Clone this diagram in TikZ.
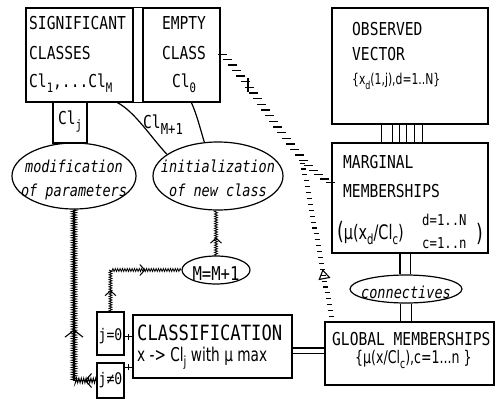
\documentclass[tikz,border=0pt]{standalone}
\usepackage{fontspec}
\setmainfont{DejaVu Sans Mono}[FakeStretch=0.82]
\newfontfamily\formfont{DejaVu Sans}[FakeStretch=0.72]
\usetikzlibrary{shapes.geometric,decorations.pathmorphing,decorations.markings,arrows.meta,calc}
\newcommand\myfs[1]{\fontsize{#1}{#1}\selectfont}
\newcommand\lsub[2][13]{\raisebox{-5pt}{\myfs{#1}#2}}
\begin{document}
\begin{tikzpicture}[x=1pt,y=-1pt,
  box/.style={draw, line width=1.2pt, inner sep=0pt},
  oval/.style={draw, ellipse, line width=1.2pt, inner sep=0pt},
  txt/.style={inner sep=0pt, anchor=base west, font=\myfs{17.8}},
  ctxt/.style={inner sep=0pt, anchor=base, font=\myfs{17.8}},
  itxt/.style={inner sep=0pt, anchor=base, font=\myfs{16.5}\itshape},
  conn/.style={line width=1.2pt},
  hatch/.style={decorate, decoration={zigzag, segment length=2.4pt, amplitude=1.5pt}, line width=0.8pt},
  mainhatch/.style={decorate, decoration={zigzag, segment length=2.4pt, amplitude=2.4pt}, line width=0.9pt},
  tick/.style={postaction={decorate, decoration={markings, mark=at position 0.45 with {\draw[line width=0.8pt] (0,-3pt) -- (0,3pt);}}}},
  ladder/.style={postaction={decorate, decoration={markings, mark=between positions 0.02 and 1 step 7pt with {\pgftransformresetnontranslations \draw[line width=1.3pt] (-4.5pt,0) -- (4.5pt,0);}}}},
  dotline/.style={postaction={decorate, decoration={markings, mark=between positions 0.03 and 1 step 6pt with {\pgftransformresetnontranslations \draw[line width=1.1pt] (-2.5pt,0) -- (2.5pt,0);}}}}
]
\useasboundingbox (0,0) rectangle (496,399);

% ---- top-left box: significant classes / empty class
\node[box, minimum width=107pt, minimum height=94pt] (sig) at (79.5,55) {};
\node[box, minimum width=77pt, minimum height=94pt] (emp) at (181.5,55) {};
\draw[conn] (sig.north east) -- (emp.north west);
\draw[conn] (sig.south east) -- (emp.south west);
\node[txt] (sig1) at (29,29) {SIGNIFICANT};
\node[txt] (sig2) at (29,59) {CLASSES};
\node[txt] (sig3) at (29,87) {Cl\lsub{1},...Cl\lsub{M}};
\node[ctxt] (emp1) at (184,29) {EMPTY};
\node[ctxt] (emp2) at (184,59) {CLASS};
\node[ctxt] (emp3) at (184,87) {Cl\lsub{0}};

% ---- Cl_j box and ellipses
\node[box, minimum width=34pt, minimum height=41pt] (clj) at (70,122.5) {};
\node[ctxt] (cljt) at (70,124) {Cl\lsub{j}};
\node[oval, minimum width=124pt, minimum height=66pt] (mod) at (74,176) {};
\node[itxt] (mod1) at (74,172) {modification};
\node[itxt] (mod2) at (74,196) {of parameters};
\node[oval, minimum width=130pt, minimum height=68pt] (init) at (218,176) {};
\node[itxt] (init1) at (218,172) {initialization};
\node[itxt] (init2) at (218,196) {of new class};

% funnel from empty class to initialization
\coordinate (fl) at ($(sig.south west)+(92,0)$);
\coordinate (fr) at ($(emp.south west)+(49,0)$);
\draw[conn] (fl) .. controls (135,112) and (150,136) .. (init.157);
\draw[conn] (fr) .. controls (197,115) and (200,128) .. (init.112);
\node[txt] (clm) at (143,128) {Cl\raisebox{-6pt}{\myfs{15}M+1}};

% ---- right column
\node[box, minimum width=156pt, minimum height=116pt] (obs) at (410,66) {};
\node[txt] (obs1) at (352,35) {OBSERVED};
\node[txt] (obs2) at (352,60) {VECTOR};
\node[txt, font=\myfs{15}\formfont] (obs3) at (352,84) {\{x\lsub[11]{d}(1,j),d=1..N\}};
\node[box, minimum width=156pt, minimum height=110pt] (marg) at (410,198) {};
\foreach \dx in {50,61,68,75,83,91}
  \draw[conn] ($(obs.south west)+(\dx,0)$) -- ($(marg.north west)+(\dx,0)$);
\node[txt] (marg1) at (343,168) {MARGINAL};
\node[txt] (marg2) at (343,197) {MEMBERSHIPS};
\node[txt, font=\myfs{20}\formfont] (marg3) at (337,239) {{\myfs{24}(}μ(x\lsub[14]{d}/Cl\lsub[14]{c})};
\node[inner sep=0pt, anchor=base west, font=\myfs{15}] (marg4) at (422,225) {d=1..N};
\node[inner sep=0pt, anchor=base west, font=\myfs{15}] (marg5) at (422,248) {c=1..n};
\node[inner sep=0pt, anchor=base west, font=\myfs{24}\formfont] (marg6) at (476,241) {)};

\node[oval, minimum width=112pt, minimum height=28pt] (cnv) at (406,289) {};
\node[itxt] (cnvt) at (406,298) {connectives};
\node[box, minimum width=169pt, minimum height=63pt] (glob) at (409.5,353.5) {};
\node[txt] (glob1) at (332,345) {GLOBAL MEMBERSHIPS};
\node[txt, font=\myfs{17.5}\formfont] (glob2) at (355,363) {\{μ(x/Cl\lsub[13]{c}),c=1...n \}};

\coordinate (mc) at ($(marg.south)+(-5,0)$);
\draw[conn, double, double distance=9pt] (mc) -- (mc |- cnv.north);
\draw[conn, double, double distance=10pt] (cnv.south) -- (cnv.south |- glob.north);

% ---- classification and j boxes
\node[box, minimum width=159pt, minimum height=63pt] (cls) at (212.5,346.5) {};
\node[txt, font=\myfs{21}] (cls1) at (137,340) {CLASSIFICATION};
\node[txt, font=\myfs{19}\formfont] (cls2) at (137,361) {x -> Cl\lsub[14]{j} with μ max};
\node[box, minimum width=27pt, minimum height=43pt] (j0) at (110.5,333.5) {};
\node[ctxt, font=\myfs{16}] (j0t) at (110.5,340) {j=0};
\node[box, minimum width=27pt, minimum height=35pt] (jn) at (110.5,380.5) {};
\node[ctxt, font=\myfs{16}] (jnt) at (110.5,384) {j≠0};
\coordinate (j0c) at ($(j0.east)+(0,3)$);
\coordinate (jnc) at ($(jn.north east)+(0,5)$);
\draw[conn, tick] (j0c) -- (j0c -| cls.west);
\draw[conn, tick] (jnc) -- (jnc -| cls.west);
\coordinate (cg) at ($(cls.east)+(0,4)$);
\draw[conn, double, double distance=4pt] (cg) -- (cg -| glob.west);

\node[oval, minimum width=68pt, minimum height=28pt] (mm) at (216,270) {};
\node[ctxt, font=\myfs{19}] (mmt) at (216,280) {M=M+1};

% ---- hatched flow lines
\draw[line width=1.8pt] (mod.south) |- (jn.west);
\draw[mainhatch] (mod.south) |- (jn.west);
\path[postaction={decorate, decoration={markings,
   mark=at position 0.62 with {\arrowreversed{Straight Barb[length=7pt,width=18pt,line width=1.1pt]}},
   mark=at position 0.94 with {\arrowreversed{Straight Barb[length=6pt,width=14pt,line width=1.1pt]}}}}]
   (mod.south) |- (jn.west);
\draw[hatch] (j0.north) |- (mm.west);
\path[postaction={decorate, decoration={markings,
   mark=at position 0.19 with {\arrow{Straight Barb[length=5pt,width=11pt,line width=1pt]}},
   mark=at position 0.68 with {\arrow{Straight Barb[length=5pt,width=11pt,line width=1pt]}}}}]
   (j0.north) |- (mm.west);
\draw[hatch] (mm.north) -- (mm.north |- init.south);
\path[postaction={decorate, decoration={markings,
   mark=at position 0.4 with {\arrow{Straight Barb[length=5pt,width=11pt,line width=1pt]}}}}]
   (mm.north) -- (mm.north |- init.south);

% ---- dashed links
\coordinate (tlE) at ($(emp.east)+(0,-3)$);
\coordinate (mL) at ($(marg.west)+(0,-15)$);
\path[ladder, postaction={decorate, decoration={markings, mark=at position 0.25 with {\pgftransformresetnontranslations \draw[line width=1.2pt] (0,-7pt) -- (0,7pt);}}}]
  (tlE) .. controls (265,100) and (295,165) .. (mL) coordinate[pos=0.72] (jct);
\coordinate (gtop) at ($(glob.north west)+(8,0)$);
\path[dotline] (jct) -- (gtop);
\path[postaction={decorate, decoration={markings,
   mark=at position 0.68 with {\arrowreversed{Triangle[open,length=10pt,width=12pt,line width=1.1pt]}}}}]
   (jct) -- (gtop);
\end{tikzpicture}
\end{document}
